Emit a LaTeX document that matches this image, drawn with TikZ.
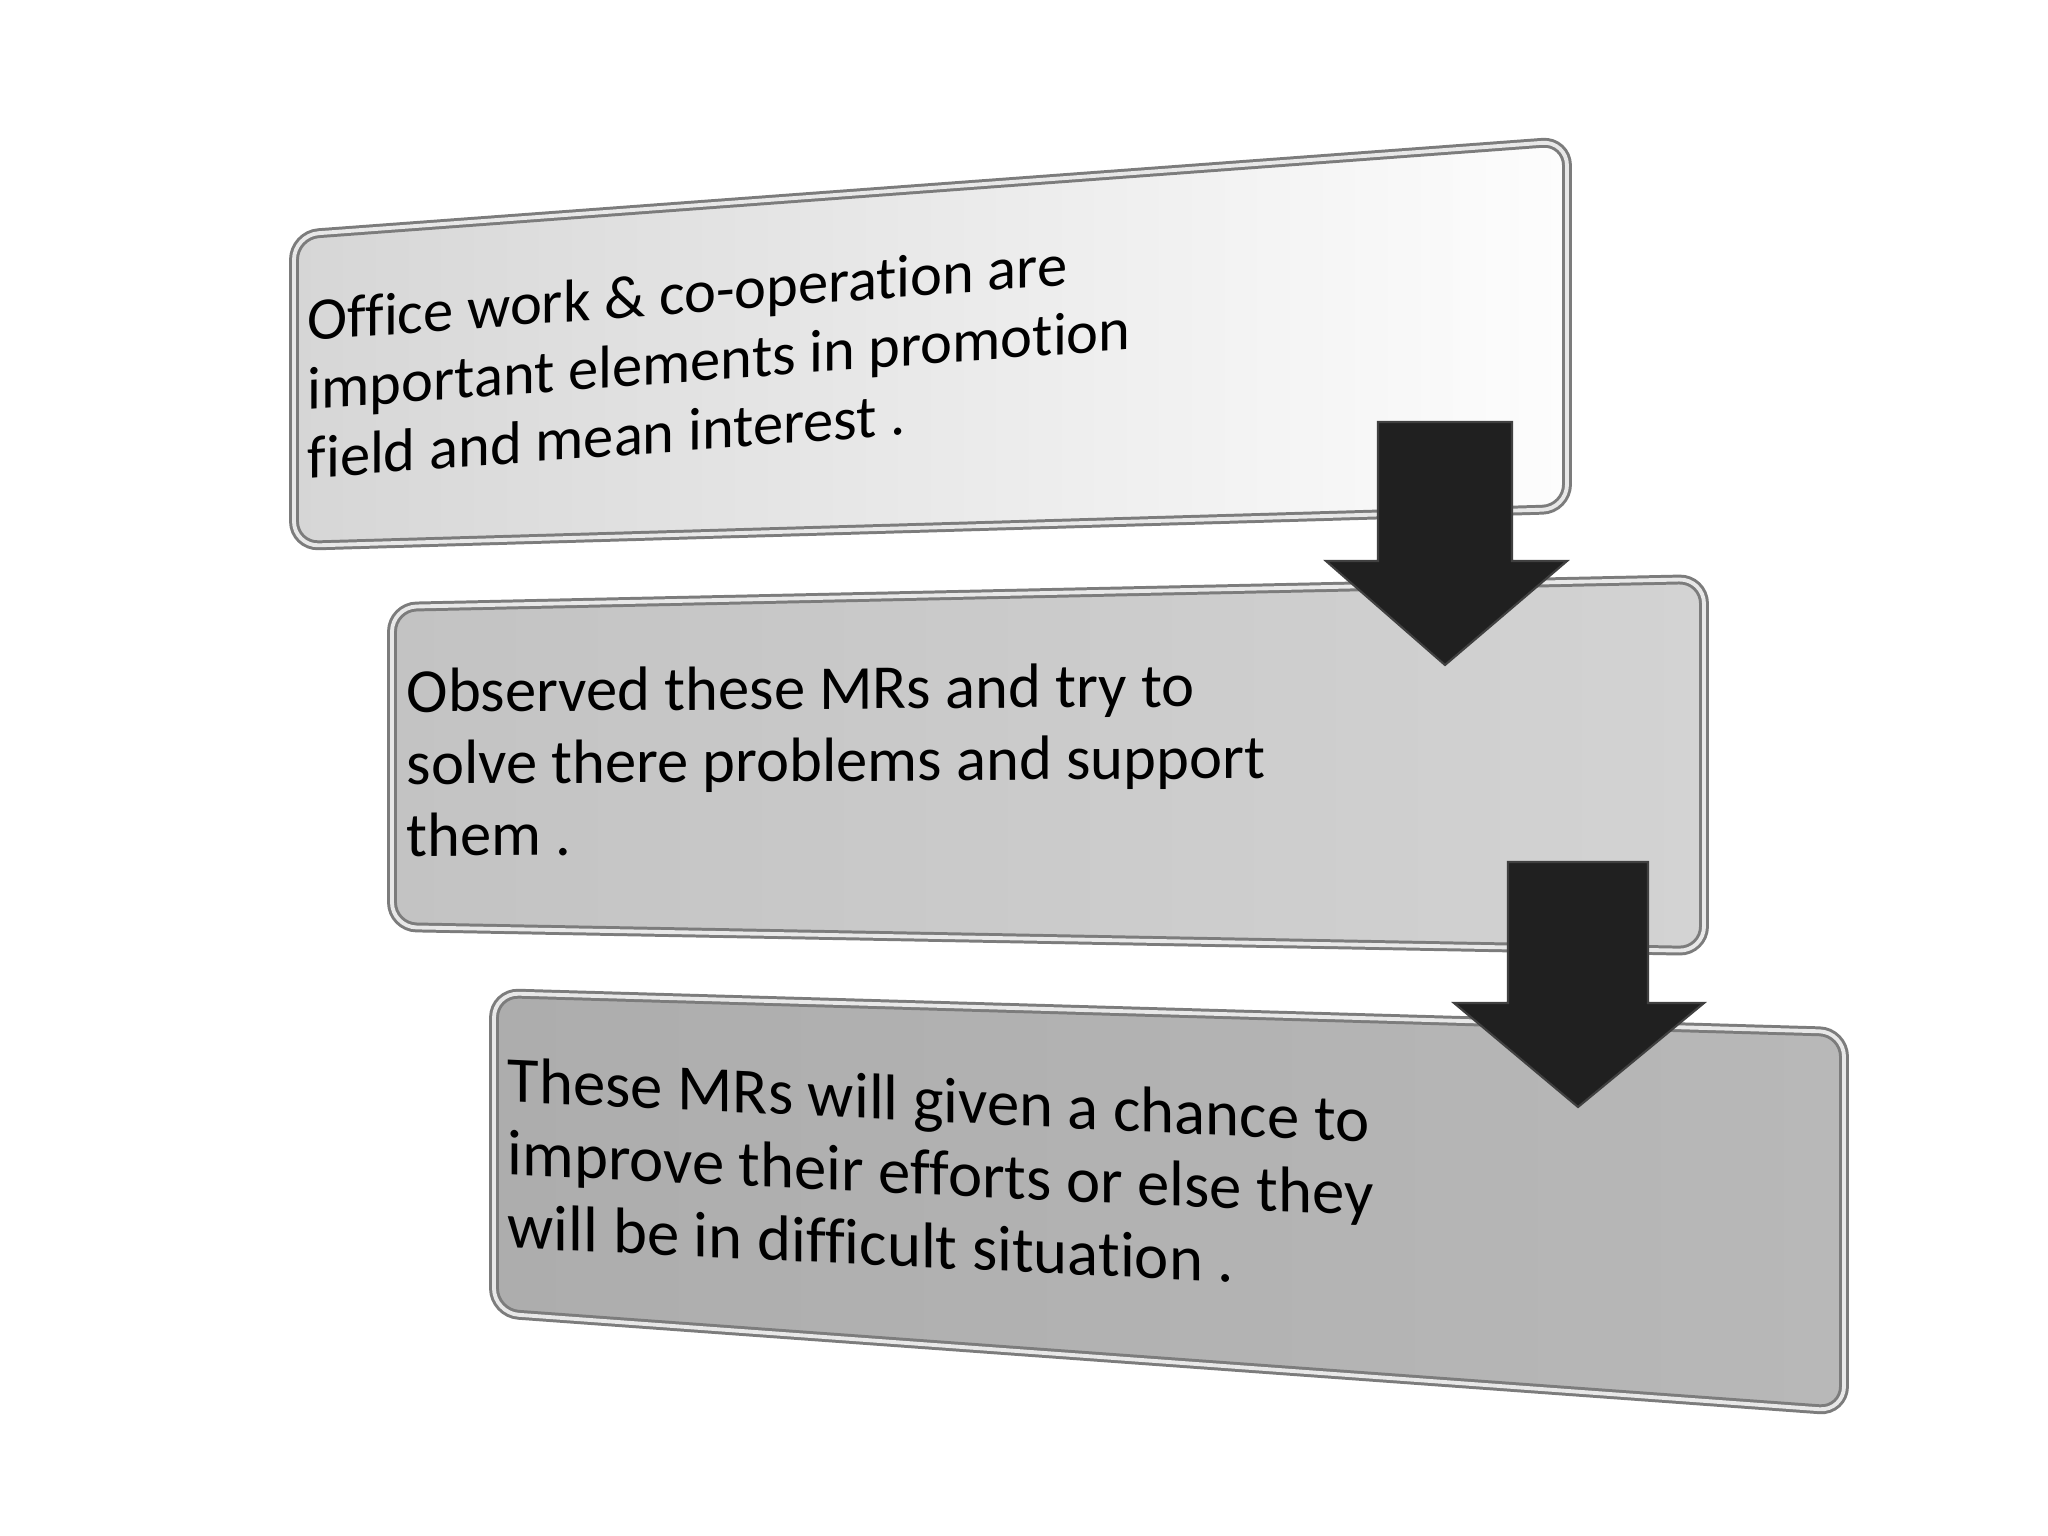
\documentclass[tikz,border=0pt]{standalone}
\usepackage{fontspec}
\setmainfont{Carlito}[Ligatures=NoCommon]
\usetikzlibrary{positioning,calc}
\definecolor{PanelRim}{HTML}{7C7C7C}
\definecolor{PanelGlint}{HTML}{E8E8E8}
\definecolor{PanelOneL}{HTML}{D6D6D6}
\definecolor{PanelOneR}{HTML}{FDFDFD}
\definecolor{PanelTwoL}{HTML}{C3C3C3}
\definecolor{PanelTwoR}{HTML}{D3D3D3}
\definecolor{PanelThreeL}{HTML}{ADADAD}
\definecolor{PanelThreeR}{HTML}{B8B8B8}
\definecolor{ArrowDark}{HTML}{202020}

\begin{document}
\begin{tikzpicture}[
    x=0.01cm, y=-0.01cm,
    panel/.style={rounded corners=7pt, draw=PanelRim, line width=2.8pt},
    rim/.style={rounded corners=7pt, draw=PanelGlint, line width=1.1pt},
    drop/.style={rounded corners=7pt, fill=black, opacity=0.13},
    blurb/.style={anchor=north west, inner sep=0pt, align=left, font=\fontsize{17.8}{20.5}\selectfont},
    blockarrow/.style={fill=ArrowDark, draw=black!75, line width=0.6pt, line join=miter}
  ]
  \useasboundingbox[fill=white] (0,0) rectangle (2048,1536);

  % Panel 1: corners
  \coordinate (p1nw) at (294,235);
  \coordinate (p1ne) at (1567,141);
  \coordinate (p1se) at (1567,509);
  \coordinate (p1sw) at (294,546);

  % Panel 2: corners
  \coordinate (p2nw) at (392,607);
  \coordinate (p2ne) at (1704,579);
  \coordinate (p2se) at (1704,951);
  \coordinate (p2sw) at (392,927);

  % Panel 3: corners
  \coordinate (p3nw) at (494,993);
  \coordinate (p3ne) at (1844,1032);
  \coordinate (p3se) at (1844,1411);
  \coordinate (p3sw) at (494,1313);

  % Shadows
  \fill[drop, shift={(4,9)}] (p1nw) -- (p1ne) -- (p1se) -- (p1sw) -- cycle;
  \fill[drop, shift={(4,9)}] (p2nw) -- (p2ne) -- (p2se) -- (p2sw) -- cycle;
  \fill[drop, shift={(4,9)}] (p3nw) -- (p3ne) -- (p3se) -- (p3sw) -- cycle;

  % Panels
  \path[panel, left color=PanelOneL, right color=PanelOneR] (p1nw) -- (p1ne) -- (p1se) -- (p1sw) -- cycle;
  \draw[rim] (p1nw) -- (p1ne) -- (p1se) -- (p1sw) -- cycle;
  \path[panel, left color=PanelTwoL, right color=PanelTwoR] (p2nw) -- (p2ne) -- (p2se) -- (p2sw) -- cycle;
  \draw[rim] (p2nw) -- (p2ne) -- (p2se) -- (p2sw) -- cycle;
  \path[panel, left color=PanelThreeL, right color=PanelThreeR] (p3nw) -- (p3ne) -- (p3se) -- (p3sw) -- cycle;
  \draw[rim] (p3nw) -- (p3ne) -- (p3se) -- (p3sw) -- cycle;

  % Texts (slanted like the panels)
  \node[blurb, yslant=0.073, font=\fontsize{17.2}{19.6}\selectfont] (office) at (307,298)
    {Office work \& co-operation are\\important elements in promotion\\field and mean interest .};
  \node[blurb, yslant=0.007] (observed) at (406,668)
    {Observed these MRs and try to\\solve there problems and support\\them .};
  \node[blurb, yslant=-0.047, font=\fontsize{18.4}{20.8}\selectfont] (chance) at (507,1056)
    {These MRs will given a chance to\\improve their efforts or else they\\will be in difficult situation .};

  % Arrow 1
  \coordinate (a1top) at (1445,422);
  \coordinate (a1tip) at (1445,665);
  \filldraw[blockarrow] ($(a1top)+(-67,0)$) -- ($(a1top)+(67,0)$) -- (1512,561) -- (1567,561)
    -- (a1tip) -- (1326,561) -- (1378,561) -- cycle;

  % Arrow 2
  \coordinate (a2top) at (1578,862);
  \coordinate (a2tip) at (1578,1107);
  \filldraw[blockarrow] ($(a2top)+(-70,0)$) -- ($(a2top)+(70,0)$) -- (1648,1003) -- (1704,1003)
    -- (a2tip) -- (1454,1003) -- (1508,1003) -- cycle;
\end{tikzpicture}
\end{document}
